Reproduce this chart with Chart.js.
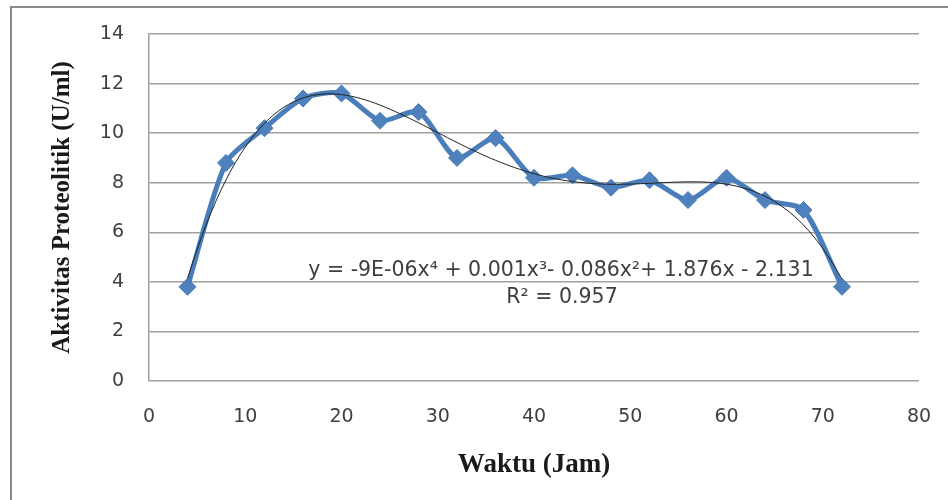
<!DOCTYPE html>
<html>
<head>
<meta charset="utf-8">
<script src="https://cdn.jsdelivr.net/npm/chart.js@4"></script>
<style>
  html, body { margin: 0; padding: 0; background: #ffffff; }
  #wrap { width: 948px; height: 500px; position: relative; }
</style>
</head>
<body>
<div id="wrap"><canvas id="chart"></canvas></div>
<script>
// Sampling times (hours) and measured proteolytic activity (U/ml)
const hours = [4, 8, 12, 16, 20, 24, 28, 32, 36, 40, 44, 48, 52, 56, 60, 64, 68, 72];
const activity = [3.8, 8.8, 10.2, 11.4, 11.6, 10.5, 10.85, 9.0, 9.8, 8.2, 8.3, 7.8, 8.1, 7.3, 8.2, 7.3, 6.9, 3.8];

// Axis ranges
const xRange = [0, 80, 10];
const yRange = [0, 14, 2];

// Trendline label
const equationLines = ['y = -9E-06x\u2074 + 0.001x\u00B3- 0.086x\u00B2+ 1.876x - 2.131', 'R\u00B2 = 0.957'];
const polyOrder = 4;

// Least-squares polynomial fit (normal equations, x scaled for stability)
function polyFit(xs, ys, order) {
  const s = Math.max(...xs);
  const n = order + 1;
  const A = Array.from({length: n}, () => new Array(n + 1).fill(0));
  xs.forEach((x0, k) => {
    const x = x0 / s;
    for (let i = 0; i < n; i++) {
      for (let j = 0; j < n; j++) A[i][j] += Math.pow(x, i + j);
      A[i][n] += ys[k] * Math.pow(x, i);
    }
  });
  for (let c = 0; c < n; c++) {
    let p = c;
    for (let r = c + 1; r < n; r++) if (Math.abs(A[r][c]) > Math.abs(A[p][c])) p = r;
    [A[c], A[p]] = [A[p], A[c]];
    for (let r = 0; r < n; r++) {
      if (r === c) continue;
      const f = A[r][c] / A[c][c];
      for (let k = c; k <= n; k++) A[r][k] -= f * A[c][k];
    }
  }
  const coef = A.map((row, i) => row[n] / row[i]);
  return x => coef.reduce((acc, c, i) => acc + c * Math.pow(x / s, i), 0);
}

const trend = polyFit(hours, activity, polyOrder);
const trendPoints = [];
for (let x = hours[0]; x <= hours[hours.length - 1] + 1e-9; x += 0.5) {
  trendPoints.push({x: x, y: trend(x)});
}

const SANS = '"DejaVu Sans", "Open Sans", sans-serif';
const SERIF = '"Liberation Serif", "Times New Roman", serif';
const TEXT = '#3f3f3f';
const GRID = '#a0a0a0';

// Outer chart frame
const framePlugin = {
  id: 'frame',
  beforeDraw(chart) {
    const ctx = chart.ctx;
    ctx.save();
    ctx.fillStyle = '#ffffff';
    ctx.fillRect(0, 0, chart.width, chart.height);
    ctx.strokeStyle = '#8a8a8a';
    ctx.lineWidth = 2;
    ctx.strokeRect(11, 7, chart.width + 20, chart.height + 20);
    ctx.restore();
  }
};

// Trendline equation and R² text
const equationPlugin = {
  id: 'equation',
  afterDraw(chart) {
    const ctx = chart.ctx;
    ctx.save();
    ctx.fillStyle = TEXT;
    ctx.font = '20.5px ' + SANS;
    ctx.textAlign = 'center';
    ctx.textBaseline = 'alphabetic';
    ctx.fillText(equationLines[0], 561, 276);
    ctx.fillText(equationLines[1], 562, 303);
    ctx.restore();
  }
};

new Chart(document.getElementById('chart'), {
  type: 'scatter',
  data: {
    datasets: [
      {
        label: 'Poly. trend',
        data: trendPoints,
        showLine: true,
        borderColor: '#222222',
        borderWidth: 1,
        pointRadius: 0,
        tension: 0,
        order: 0
      },
      {
        label: 'Aktivitas',
        data: hours.map((h, i) => ({x: h, y: activity[i]})),
        showLine: true,
        borderColor: '#4A7EBB',
        backgroundColor: '#4F81BD',
        borderWidth: 5,
        pointStyle: 'rectRot',
        pointRadius: 8.5,
        pointBorderColor: '#4A7EBB',
        pointBorderWidth: 1,
        tension: 0.25,
        order: 1
      }
    ]
  },
  options: {
    responsive: true,
    maintainAspectRatio: false,
    animation: false,
    layout: { padding: { left: 0, top: 34, right: 29, bottom: 0 } },
    plugins: { legend: { display: false }, tooltip: { enabled: false } },
    scales: {
      x: {
        type: 'linear',
        min: xRange[0], max: xRange[1],
        ticks: { stepSize: xRange[2], color: TEXT, font: { family: SANS, size: 19 }, padding: 25 },
        grid: { display: false, drawTicks: false },
        border: { display: false },
        title: {
          display: true, text: 'Waktu (Jam)', color: '#1a1a1a',
          font: { family: SERIF, weight: 'bold', size: 27, lineHeight: 1 },
          padding: { top: 0, bottom: 21 }
        },
        afterFit(scale) {
          scale.height = 119;
          scale.paddingLeft = 0;
          scale.paddingRight = 0;
        }
      },
      y: {
        type: 'linear',
        min: yRange[0], max: yRange[1],
        ticks: { stepSize: yRange[2], color: TEXT, font: { family: SANS, size: 19 }, padding: 25 },
        grid: { color: GRID, lineWidth: 1.5, drawTicks: false },
        border: { display: true, color: GRID, width: 1.5 },
        title: {
          display: true, text: 'Aktivitas Proteolitik (U/ml)', color: '#1a1a1a',
          font: { family: SERIF, weight: 'bold', size: 25, lineHeight: 1 },
          padding: { top: 50, bottom: 0 }
        },
        afterFit(scale) {
          scale.width = 149;
          scale.paddingTop = 0;
          scale.paddingBottom = 0;
        }
      }
    }
  },
  plugins: [framePlugin, equationPlugin]
});
</script>
</body>
</html>
